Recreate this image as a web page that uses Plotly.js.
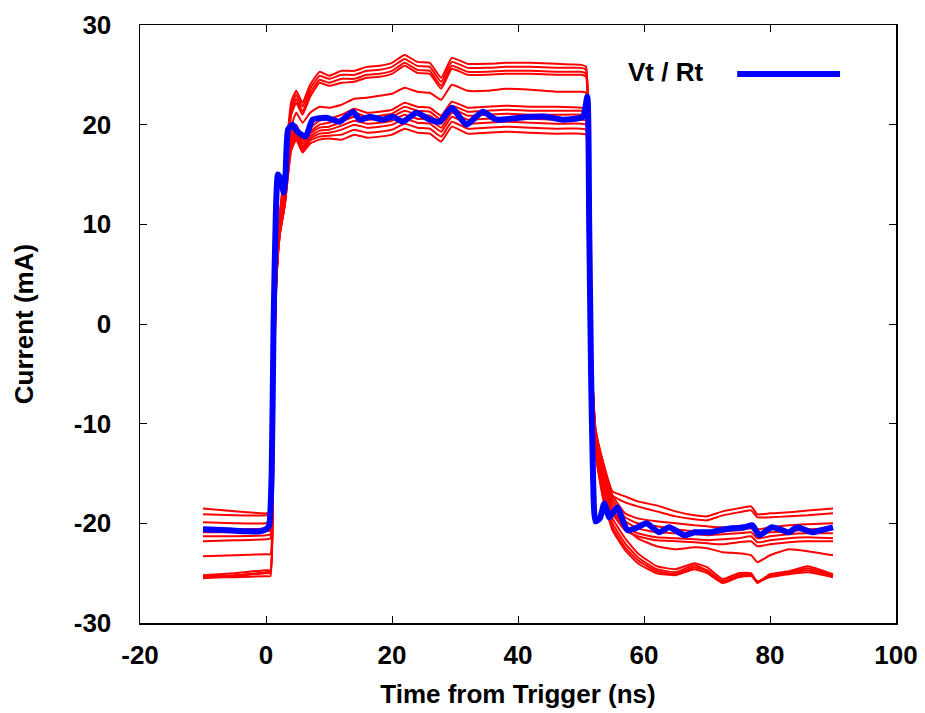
<!DOCTYPE html>
<html>
<head>
<meta charset="utf-8">
<script src="https://cdn.plot.ly/plotly-3.0.1.min.js"></script>
<style>html,body{margin:0;padding:0;background:#fff;}#chart{width:925px;height:713px;}</style>
</head>
<body>
<div id="chart"></div>
<script>
// Shared time axis for the red traces (ns)
var T = [-10,-5,0, 0.7,1.2,1.6,2.2,3,4,4.8,5.8,7,8.5,10,
  12,14,16,18,20,22,24,26,27.8,29.5,32,35,38,42,46,50,50.8,
  51.5,52.3,53.5,55,57,59,
  62,65,68,70,72.5,75,77,78,80,83,86,90];

// Red traces: measured currents (mA)
var r1 = [-25.5,-25.3,-25.0, -25.0,-6,4,11,16,22.3,23.4,22.2,24.0,25.3,24.9,
  25.4,25.4,25.8,25.9,26.2,27.0,26.3,26.2,24.7,26.7,26.1,26.1,26.2,26.2,26.1,26.0,25.8,
  2,-12.5,-16.5,-19.5,-21.5,-23.0,
  -24.3,-24.6,-24.0,-24.4,-25.6,-25.0,-25.0,-25.9,-25.1,-24.8,-24.3,-25.1];
var r2 = [-25.3,-25.2,-24.9, -24.8,-6,4,11,15.5,21.8,23.0,21.8,23.6,24.9,24.6,
  25.0,25.0,25.4,25.5,25.8,26.6,25.9,25.8,24.3,26.3,25.7,25.7,25.8,25.8,25.7,25.7,25.5,
  2,-12.5,-17,-20,-22,-23.4,
  -24.6,-24.9,-24.2,-24.7,-25.8,-25.2,-25.1,-26.0,-25.2,-24.9,-24.5,-25.2];
var r3 = [-25.2,-25.0,-24.7, -24.7,-6.5,3.5,10.5,15,21.3,22.6,21.3,23.2,24.5,24.2,
  24.6,24.6,25.0,25.1,25.4,26.2,25.5,25.4,23.9,25.9,25.3,25.3,25.4,25.4,25.3,25.3,25.1,
  1,-12.8,-17.3,-20.4,-22.4,-23.7,
  -24.8,-25.1,-24.4,-24.8,-25.9,-25.3,-25.2,-25.9,-25.3,-25.0,-24.7,-25.3];
var r4 = [-25.4,-25.4,-25.3, -25.3,-7,3,10,14.5,21,22.2,21.0,22.8,24.2,23.9,
  24.2,24.3,24.7,24.8,25.1,25.9,25.2,25.1,23.6,25.6,25.0,25.0,25.1,25.1,25.0,25.0,24.8,
  1,-13,-17.5,-20.7,-22.7,-24.0,
  -25.0,-25.2,-24.6,-25.0,-26.0,-25.4,-25.3,-25.8,-25.4,-25.1,-24.9,-25.4];
var r5 = [-23.3,-23.2,-23.1, -23.1,-5,4,10,14,19.8,21.2,20.2,21.2,21.8,21.7,
  22.0,22.6,22.7,22.9,23.1,23.7,23.3,23.2,22.5,24.0,23.4,23.4,23.6,23.5,23.3,23.3,23.2,
  1,-12,-16,-18.8,-20.4,-21.5,
  -22.3,-22.6,-22.4,-22.5,-22.9,-23.0,-23.2,-23.9,-23.2,-22.6,-22.8,-23.2];
var r6 = [-21.8,-21.7,-21.6, -21.5,-4,4,10,13.5,19.2,20.0,18.7,19.6,20.4,20.6,
  21.0,21.6,21.2,21.3,21.5,22.2,21.8,21.7,20.9,22.3,21.7,21.8,21.9,21.8,21.8,21.7,21.6,
  0,-11.5,-15.5,-19.0,-20.7,-21.3,
  -21.7,-21.8,-21.9,-22.0,-22.1,-21.9,-21.8,-22.3,-22.1,-21.9,-21.8,-21.8];
var r7 = [-21.3,-21.3,-21.2, -21.1,-4,4,10,13,18.8,19.7,18.4,19.3,20.0,20.2,
  20.6,21.2,20.8,20.9,21.1,21.8,21.4,21.3,20.5,21.9,21.3,21.4,21.5,21.4,21.4,21.4,21.3,
  0,-11.5,-15.2,-18.5,-20.3,-21.0,
  -21.4,-21.5,-21.6,-21.7,-21.6,-21.5,-21.3,-21.9,-21.7,-21.5,-21.4,-21.5];
var r8 = [-20.9,-20.9,-20.8, -20.7,-3.5,4,9.5,12.5,18.6,19.5,18.1,19.1,19.7,19.8,
  20.3,20.8,20.5,20.6,20.8,21.4,21.0,20.9,20.1,21.6,20.9,21.0,21.1,21.0,21.0,21.0,20.9,
  0,-11,-15,-18,-19.8,-20.5,
  -20.9,-21.0,-21.1,-21.2,-21.1,-21.0,-20.9,-21.5,-21.3,-21.1,-21.0,-21.0];
var r9 = [-20.5,-20.6,-20.5, -20.3,-3,4,9.5,12.5,18.3,19.2,17.8,18.8,19.4,19.5,
  19.9,20.4,20.1,20.2,20.4,21.0,20.6,20.5,19.7,21.2,20.5,20.6,20.7,20.6,20.5,20.5,20.4,
  -1,-11,-14.6,-17.6,-19.4,-20.0,
  -20.3,-20.6,-20.8,-20.9,-20.8,-20.7,-20.5,-21.1,-20.9,-20.8,-20.6,-20.5];
var r10 = [-19.9,-20.0,-20.0, -19.8,-3,4,9,12,18.0,19.0,17.6,18.6,19.1,19.2,
  19.5,20.0,19.7,19.8,20.0,20.6,20.2,20.1,19.3,20.8,20.1,20.2,20.3,20.2,20.1,20.1,20.0,
  -1,-10.8,-14.3,-17.2,-19.0,-19.5,
  -19.8,-20.0,-20.2,-20.3,-20.4,-20.3,-20.1,-20.6,-20.4,-20.2,-20.1,-20.0];
var r11 = [-19.1,-19.2,-19.2, -19.1,-2.5,4,9,12,17.7,18.8,17.4,18.4,18.8,18.9,
  19.0,19.5,19.2,19.3,19.5,20.1,19.7,19.6,18.8,20.3,19.6,19.7,19.8,19.7,19.6,19.6,19.5,
  -1,-10.5,-14,-17.2,-17.9,-18.3,
  -18.8,-19.3,-19.6,-19.7,-19.2,-18.9,-18.7,-19.4,-19.4,-19.3,-19.2,-19.0];
var r12 = [-18.5,-18.8,-19.0, -18.9,-2,4.5,9,12,17.4,18.5,17.2,18.1,18.5,18.6,
  18.5,19.0,18.7,18.8,19.0,19.6,19.2,19.1,18.3,19.8,19.1,19.2,19.3,19.2,19.1,19.1,19.0,
  -2,-10.5,-13.8,-16.8,-17.3,-17.8,
  -18.2,-18.8,-19.2,-19.3,-18.8,-18.5,-18.3,-19.1,-19.0,-18.9,-18.7,-18.5];
var redSeries = [r1,r2,r3,r4,r5,r6,r7,r8,r9,r10,r11,r12];

// Blue trace: Vt / Rt
var TB = [-10,-6,-3,-1,0,0.5,0.9,1.2,1.6,1.9,2.4,2.8,3.1,3.5,4.2,5,6.3,7.4,9.6,11.7,
  13.8,14.9,16.5,18.5,20.1,21.7,23.9,26,27.6,29.5,31.8,34.4,36.6,40.2,44.5,47.1,50.3,51,
  51.3,51.6,51.9,52.3,53,53.7,54.5,55.2,55.8,56.5,57.4,59,60.4,62.4,64,66.4,68,70.4,72,74,76,77.2,
  78.3,80.3,82,83,84.3,86.7,88,90];
var VB = [-20.6,-20.7,-20.8,-20.8,-20.6,-20.2,-15,0,12,15,14.5,13.2,15,19.5,20.0,19.3,18.8,20.5,20.7,20.3,
  21.3,20.5,20.8,20.5,20.8,20.3,21.2,20.5,20.3,21.7,20.0,21.3,20.5,20.7,20.8,20.5,20.8,22.8,
  10,-5,-15,-19.8,-19.5,-18.0,-19.4,-18.8,-18.4,-19.5,-20.7,-20.4,-20.0,-20.9,-20.4,-21.2,-20.9,-20.9,-20.7,-20.5,-20.4,-20.2,
  -21.2,-20.4,-20.7,-20.9,-20.4,-20.9,-20.7,-20.4];

var xTickVals = [-20, 0, 20, 40, 60, 80, 100];
var xTickText = ["-20", "0", "20", "40", "60", "80", "100"];
var yTickVals = [-30, -20, -10, 0, 10, 20, 30];
var yTickText = ["-30", "-20", "-10", "0", "10", "20", "30"];

var legendLabel = "Vt / Rt";
var xTitle = "Time from Trigger (ns)";
var yTitle = "Current (mA)";

var traces = redSeries.map(function(v){
  return {x: T, y: v, type: 'scatter', mode: 'lines',
    line: {color: '#ff0000', width: 2, shape: 'spline', smoothing: 0.4}, showlegend: false, hoverinfo: 'skip'};
});
traces.push({x: TB, y: VB, type: 'scatter', mode: 'lines', name: legendLabel,
  line: {color: '#0000ff', width: 6, shape: 'spline', smoothing: 0.5}, showlegend: false});

var F = 'Liberation Sans, Arial, sans-serif';
var layout = {
  width: 925, height: 713,
  margin: {l: 140, r: 29, t: 25, b: 90},
  paper_bgcolor: '#fff', plot_bgcolor: '#fff',
  font: {family: F, size: 26, color: '#000', weight: 700},
  xaxis: {range: [-20, 100], tickmode: 'array', tickvals: xTickVals, ticktext: xTickText,
    ticks: 'inside', ticklen: 7, tickwidth: 1,
    tickcolor: '#000', showline: true, linecolor: '#000', linewidth: 1.5, mirror: 'ticks',
    showgrid: false, zeroline: false, ticklabelstandoff: 8,
    tickfont: {family: F, size: 26, color: '#000', weight: 700},
    title: {text: xTitle, standoff: 16, font: {family: F, size: 26, color: '#000', weight: 700}}},
  yaxis: {range: [-30, 30], tickmode: 'array', tickvals: yTickVals, ticktext: yTickText,
    ticks: 'inside', ticklen: 7, tickwidth: 1,
    tickcolor: '#000', showline: true, linecolor: '#000', linewidth: 1.5, mirror: 'ticks',
    showgrid: false, zeroline: false, ticklabelstandoff: 22,
    tickfont: {family: F, size: 26, color: '#000', weight: 700},
    title: {text: yTitle, standoff: 32, font: {family: F, size: 26, color: '#000', weight: 700}}},
  annotations: [{xref: 'paper', yref: 'paper', x: 0.747, y: 0.921, xanchor: 'right', yanchor: 'middle',
    text: legendLabel, showarrow: false, font: {family: F, size: 26, color: '#000', weight: 700}}],
  shapes: [{type: 'line', xref: 'paper', yref: 'paper', x0: 0.79, x1: 0.926, y0: 0.918, y1: 0.918,
    line: {color: '#0000ff', width: 6}}]
};
Plotly.newPlot('chart', traces, layout, {displayModeBar: false, staticPlot: true});
</script>
</body>
</html>
